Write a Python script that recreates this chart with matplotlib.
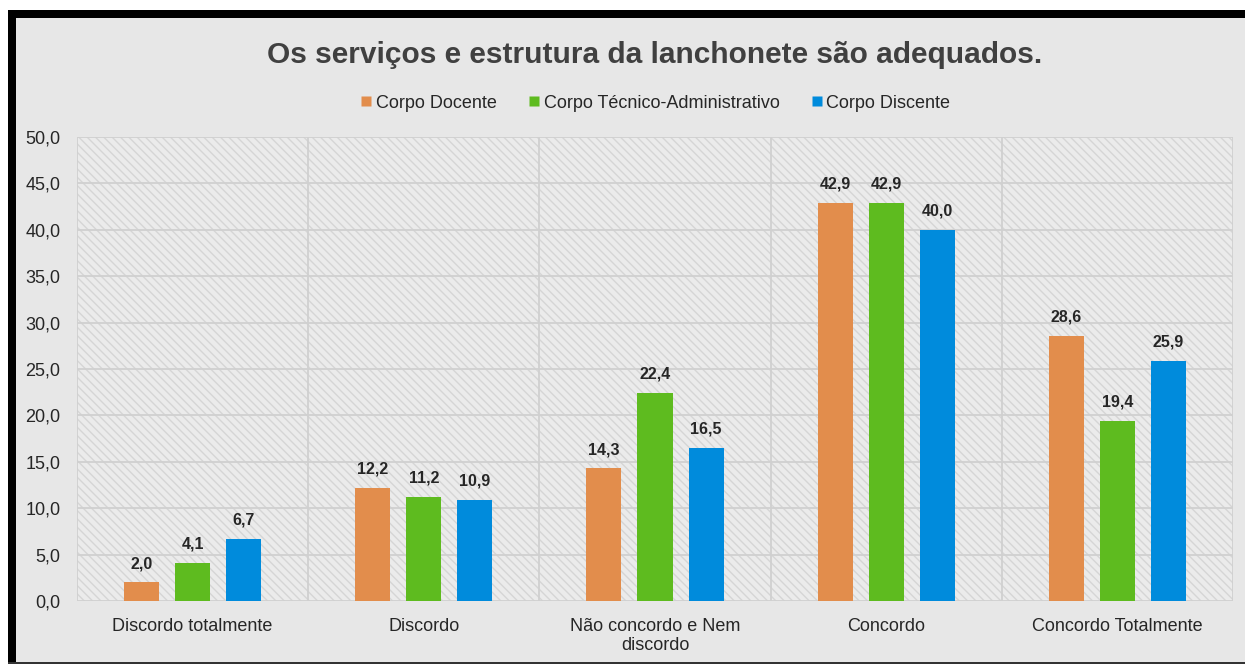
import matplotlib
matplotlib.use("Agg")
import matplotlib.pyplot as plt
from matplotlib.patches import Rectangle
import matplotlib.lines as mlines
import numpy as np

categories = ["Discordo totalmente", "Discordo", "Não concordo e Nem\ndiscordo", "Concordo", "Concordo Totalmente"]
series_names = ["Corpo Docente", "Corpo Técnico-Administrativo", "Corpo Discente"]
docente = [2.0, 12.2, 14.3, 42.9, 28.6]
tecnico = [4.1, 11.2, 22.4, 42.9, 19.4]
discente = [6.7, 10.9, 16.5, 40.0, 25.9]
colors = ["#E28D4C", "#5EBB1F", "#008BDC"]
yticks = np.arange(0, 50.1, 5)
title = "Os serviços e estrutura da lanchonete são adequados."

plt.rcParams['font.family'] = ['Liberation Sans', 'DejaVu Sans']
plt.rcParams['hatch.linewidth'] = 1.0

W, H = 1245, 664
fig = plt.figure(figsize=(W/100, H/100), dpi=100)
fig.patch.set_facecolor("white")

# chart background
fig.patches.append(Rectangle((16/W, 0), 1 - 16/W, 1 - 18/H, transform=fig.transFigure,
                             facecolor="#E7E7E7", edgecolor="none", zorder=-10))
# black borders
fig.patches.append(Rectangle((8/W, 0), 8/W, 1 - 10/H, transform=fig.transFigure,
                             facecolor="black", edgecolor="none", zorder=-5))
fig.patches.append(Rectangle((8/W, 1 - 18/H), 1 - 8/W, 8/H, transform=fig.transFigure,
                             facecolor="black", edgecolor="none", zorder=-5))
fig.patches.append(Rectangle((8/W, 0), 1 - 8/W, 2/H, transform=fig.transFigure,
                             facecolor="#333333", edgecolor="none", zorder=-5))

x0, x1 = 77, 1233
y0, y1 = 601, 137
ax = fig.add_axes([x0/W, 1 - y0/H, (x1-x0)/W, (y0-y1)/H])
ax.set_facecolor("#EBEBEB")
ax.add_patch(Rectangle((0, 0), 1, 1, transform=ax.transAxes, facecolor="#EBEBEB",
                       edgecolor="#D5D5D5", hatch="\\\\\\\\", lw=0, zorder=0))

n = len(categories)
xs = np.arange(n)
bw = 0.152
step = 0.221
for i, (vals, c) in enumerate(zip([docente, tecnico, discente], colors)):
    pos = xs + (i - 1) * step
    ax.bar(pos, vals, width=bw, color=c, zorder=3, edgecolor="none")
    for p, v in zip(pos, vals):
        ax.text(p, v + 1.2, f"{v:.1f}".replace(".", ","), ha="center", va="bottom",
                fontsize=11.5, fontweight="bold", color="#262626", zorder=4)

ax.set_xlim(-0.5, n - 0.5)
ax.set_ylim(0, 50)
ax.set_yticks(yticks)
ax.set_yticklabels([f"{v:.1f}".replace(".", ",") for v in yticks], fontsize=13, color="#262626")
ax.set_xticks(xs)
ax.set_xticklabels(categories, fontsize=13, color="#262626", linespacing=1.15)
ax.tick_params(length=0)
ax.tick_params(axis='y', pad=12)
ax.tick_params(axis='x', pad=12.5)
for yv in yticks:
    ax.axhline(yv, color="#D0D0D0", lw=1.3, zorder=1)
for xv in np.arange(-0.5, n, 1):
    ax.axvline(xv, color="#D0D0D0", lw=1.3, zorder=1)
for s in ax.spines.values():
    s.set_visible(False)

fig.text((x0 + x1) / 2 / W, 1 - 55/H, title, ha="center", va="center",
         fontsize=21.5, fontweight="bold", color="#404040")

handles = [mlines.Line2D([], [], marker="s", linestyle="none", markersize=7.2,
                         markerfacecolor=c, markeredgecolor="none") for c in colors]
fig.legend(handles, series_names, loc="center", bbox_to_anchor=((x0 + x1) / 2 / W, 1 - 103/H),
           ncol=3, frameon=False, fontsize=13, handlelength=0.7, handletextpad=0.2,
           columnspacing=1.7, labelcolor="#262626")

fig.savefig("out.png", dpi=100)
